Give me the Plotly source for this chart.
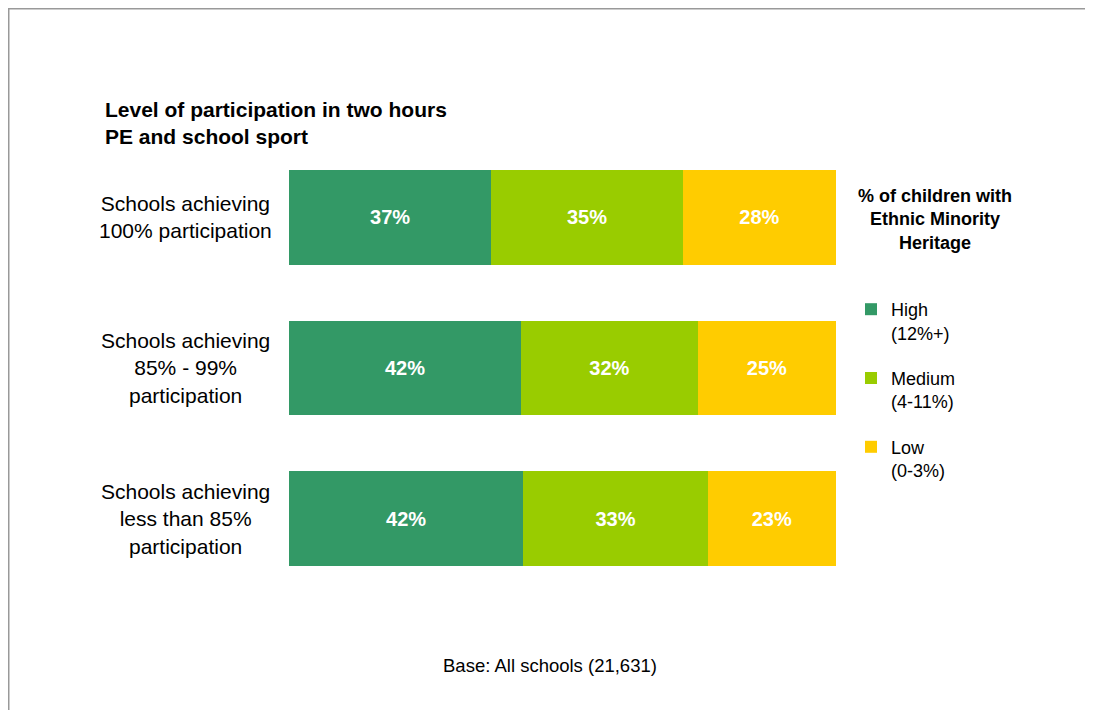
import plotly.graph_objects as go

categories = ["Schools achieving<br>100% participation",
              "Schools achieving<br>85% - 99%<br>participation",
              "Schools achieving<br>less than 85%<br>participation"]
series_names = ["High<br>(12%+)", "Medium<br>(4-11%)", "Low<br>(0-3%)"]
high = [37, 42, 42]
medium = [35, 32, 33]
low = [28, 25, 23]
colors = ["#339966", "#99CC00", "#FFCC00"]

W, H = 1077, 702
L, R, T, B = 281, 249, 134, 116
pw, ph = W - L - R, H - T - B

def px(x):
    return (x - L) / pw

def py(y):
    return 1 - (y - T) / ph

FONT = "Arial, Liberation Sans, sans-serif"

fig = go.Figure()
for i, (name, vals, col) in enumerate(zip(series_names, [high, medium, low], colors)):
    fig.add_trace(go.Bar(
        y=categories, x=vals, orientation="h", name=name, legendgroup=f"g{i}",
        marker=dict(color=col, line=dict(width=0)),
        text=[f"{v}%" for v in vals], textposition="inside",
        insidetextanchor="middle",
        textfont=dict(family=FONT, size=20, color="white", weight="bold"),
        hoverinfo="skip",
    ))

annotations = []
for c in categories:
    annotations.append(dict(text=c, x=px(177), xref="paper", y=c, yref="y",
                            xanchor="center", yanchor="middle", align="center",
                            showarrow=False, font=dict(family=FONT, size=21, color="black")))
annotations.append(dict(text="<b>% of children with<br>Ethnic Minority<br>Heritage</b>",
                        x=px(927), y=py(211), xref="paper", yref="paper",
                        xanchor="center", yanchor="middle", align="center", showarrow=False,
                        font=dict(family=FONT, size=18, color="black")))
annotations.append(dict(text="Base: All schools (21,631)", x=px(542), y=py(657),
                        xref="paper", yref="paper", xanchor="center", yanchor="middle",
                        showarrow=False, font=dict(family=FONT, size=18.5, color="black")))

shapes = [
    dict(type="line", xref="paper", yref="paper", x0=px(0), x1=px(W), y0=py(0), y1=py(0),
         line=dict(color="#999999", width=3)),
    dict(type="line", xref="paper", yref="paper", x0=px(0), x1=px(0), y0=py(0), y1=py(H),
         line=dict(color="#999999", width=3)),
]

fig.update_layout(
    width=W, height=H,
    margin=dict(l=L, r=R, t=T, b=B, autoexpand=False),
    barmode="stack", barnorm="percent", bargap=0.37,
    paper_bgcolor="white", plot_bgcolor="white",
    font=dict(family=FONT, color="black"),
    title=dict(text="<b>Level of participation in two hours<br>PE and school sport</b>",
               x=97 / W, xanchor="left", xref="container",
               y=1 - 109 / H, yanchor="middle", yref="container",
               font=dict(family=FONT, size=21, color="black")),
    xaxis=dict(range=[0, 100], visible=False, fixedrange=True),
    yaxis=dict(autorange="reversed", visible=False, fixedrange=True),
    legend=dict(x=px(843), y=py(283), xanchor="left", yanchor="top",
                traceorder="grouped", valign="top", tracegroupgap=19,
                font=dict(family=FONT, size=18, color="black"),
                bgcolor="rgba(0,0,0,0)"),
    annotations=annotations,
    shapes=shapes,
)

fig.write_html("out.html")
